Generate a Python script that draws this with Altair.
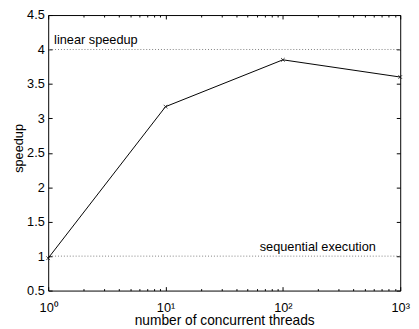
import altair as alt
import pandas as pd

threads = [1, 10, 100, 1000]
speedup = [0.97, 3.17, 3.85, 3.60]
x_major = [1, 10, 100, 1000]
x_tick_labels = ["10⁰", "10¹", "10²", "10³"]
x_minor = [m * d for d in [1, 10, 100] for m in range(2, 10)]
y_ticks = [0.5, 1.0, 1.5, 2.0, 2.5, 3.0, 3.5, 4.0, 4.5]
ref_y = [4.0, 1.0]
ref_labels = ["linear speedup", "sequential execution"]
ref_label_x = [1, 620]

W, H = 359, 281
FONT = "Liberation Sans"

df = pd.DataFrame({"threads": threads, "speedup": speedup})
refs = pd.DataFrame({"y": ref_y, "label": ref_labels, "x": ref_label_x})

xscale = alt.Scale(type="log", domain=[1, 1000])
yscale = alt.Scale(domain=[0.5, 4.5])

label_expr = " : ".join(
    f"datum.value == {v} ? '{l}'" for v, l in zip(x_major, x_tick_labels)
) + " : ''"

line = alt.Chart(df).mark_line(color="black", strokeWidth=1).encode(
    x=alt.X("threads:Q", scale=xscale,
            axis=alt.Axis(values=x_major, labelExpr=label_expr, ticks=False,
                          domain=False, grid=False, title="number of concurrent threads",
                          labelPadding=11, titlePadding=0, labelFlush=False,
                          labelFontSize=13, titleFontSize=14)),
    y=alt.Y("speedup:Q", scale=yscale,
            axis=alt.Axis(values=y_ticks, format="~g", ticks=False, domain=False,
                          grid=False, title="speedup", labelPadding=4, titlePadding=1,
                          titleY=135.5, labelFontSize=13, titleFontSize=13)),
)

points = alt.Chart(df).mark_point(
    shape="M-1,-1L1,1M-1,1L1,-1", size=14, color="black", filled=False, strokeWidth=1
).encode(
    x=alt.X("threads:Q", scale=xscale, axis=None),
    y=alt.Y("speedup:Q", scale=yscale, axis=None),
)


def tick_layer(channel, values, orient, offset, size):
    ax = alt.Axis(values=values, orient=orient, offset=offset, labels=False,
                  domain=False, grid=False, title=None, ticks=True, tickSize=size,
                  tickColor="black", tickWidth=1)
    if channel == "x":
        enc = dict(x=alt.X("threads:Q", scale=xscale, axis=ax),
                   y=alt.Y("speedup:Q", scale=yscale, axis=None))
    else:
        enc = dict(x=alt.X("threads:Q", scale=xscale, axis=None),
                   y=alt.Y("speedup:Q", scale=yscale, axis=ax))
    return alt.Chart(df).mark_point(opacity=0).encode(**enc)


ticks = [
    tick_layer("x", x_major, "top", -H, 4),
    tick_layer("x", x_minor, "top", -H, 2),
    tick_layer("x", x_major, "bottom", -H, 4),
    tick_layer("x", x_minor, "bottom", -H, 2),
    tick_layer("y", y_ticks, "right", -W, 4),
    tick_layer("y", y_ticks, "left", -W, 4),
]

rules = alt.Chart(refs).mark_rule(color="#808080", strokeDash=[1, 2], strokeWidth=1).encode(
    y=alt.Y("y:Q", scale=yscale, axis=None)
)

txt_lin = alt.Chart(refs.iloc[[0]]).mark_text(
    align="left", baseline="bottom", dx=6, dy=-3, font=FONT, fontSize=13, color="black"
).encode(
    x=alt.X("x:Q", scale=xscale, axis=None),
    y=alt.Y("y:Q", scale=yscale, axis=None),
    text="label:N",
)
txt_seq = alt.Chart(refs.iloc[[1]]).mark_text(
    align="right", baseline="bottom", dx=0, dy=-2, font=FONT, fontSize=13, color="black"
).encode(
    x=alt.X("x:Q", scale=xscale, axis=None),
    y=alt.Y("y:Q", scale=yscale, axis=None),
    text="label:N",
)

chart = alt.layer(rules, line, points, txt_lin, txt_seq, *ticks).resolve_axis(
    x="independent", y="independent"
).properties(
    width=W, height=H,
    autosize=alt.AutoSizeParams(type="none"),
    padding={"left": 41, "top": 4, "right": 11, "bottom": 36},
).configure_view(
    stroke="black", strokeWidth=1
).configure_axis(
    labelFont=FONT, titleFont=FONT,
    labelColor="black", titleColor="black", titleFontWeight="normal",
)

chart.save("out.html", embed_options={"renderer": "svg", "actions": False})
